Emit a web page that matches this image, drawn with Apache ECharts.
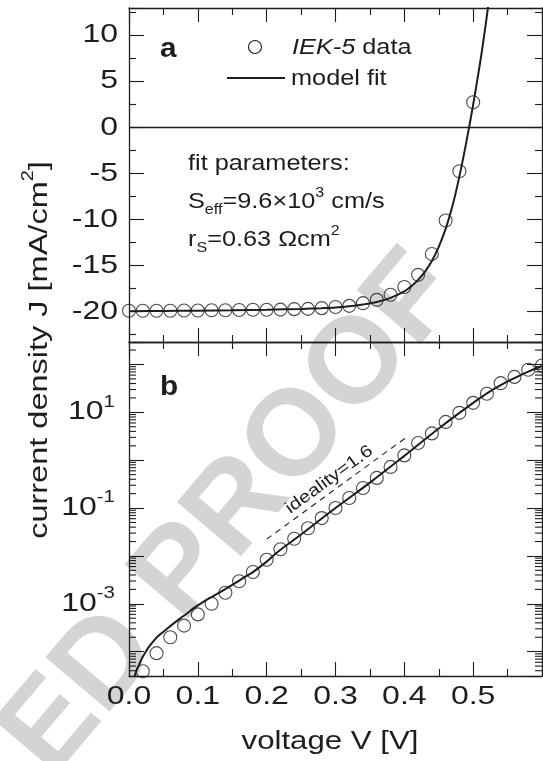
<!DOCTYPE html>
<html>
<head>
<meta charset="utf-8">
<script src="https://cdn.jsdelivr.net/npm/echarts@6/dist/echarts.min.js"></script>
<style>
  html, body { margin: 0; padding: 0; background: #fff; }
  #chart { width: 543px; height: 761px; }
</style>
</head>
<body>
<div id="chart"></div>
<script>
// ---- Illuminated J–V (panel a) ----
const voltageIllum = [0.00, 0.02, 0.04, 0.06, 0.08, 0.10, 0.12, 0.14, 0.16, 0.18, 0.20, 0.22, 0.24,
  0.26, 0.28, 0.30, 0.32, 0.34, 0.36, 0.38, 0.40, 0.42, 0.44, 0.46, 0.48, 0.50];
const currentIllum = [-19.90, -19.90, -19.90, -19.90, -19.88, -19.87, -19.85, -19.85, -19.83, -19.80,
  -19.80, -19.78, -19.73, -19.70, -19.62, -19.50, -19.37, -19.08, -18.72, -18.17, -17.33, -16.00,
  -13.74, -10.10, -4.75, 2.75];
const fitVoltageIllum = [0.00, 0.05, 0.10, 0.15, 0.20, 0.25, 0.28, 0.30, 0.32, 0.34, 0.36, 0.38, 0.40,
  0.41, 0.42, 0.43, 0.44, 0.45, 0.46, 0.47, 0.48, 0.49, 0.50, 0.51, 0.515, 0.52, 0.525];
const fitCurrentIllum = [-19.95, -19.93, -19.90, -19.86, -19.80, -19.70, -19.62, -19.55, -19.42, -19.22,
  -18.95, -18.50, -17.80, -17.25, -16.55, -15.65, -14.50, -12.95, -11.00, -8.50, -5.30, -1.60, 2.50,
  7.00, 9.50, 12.20, 15.00];

// ---- Dark J–V on a log scale (panel b) ----
const voltageDark = [0.02, 0.04, 0.06, 0.08, 0.10, 0.12, 0.14, 0.16, 0.18, 0.20, 0.22, 0.24, 0.26, 0.28,
  0.30, 0.32, 0.34, 0.36, 0.38, 0.40, 0.42, 0.44, 0.46, 0.48, 0.50, 0.52, 0.54, 0.56, 0.58, 0.60];
const currentDark = [3.9e-5, 9.3e-5, 2.0e-4, 3.5e-4, 6.0e-4, 1.0e-3, 1.7e-3, 2.95e-3, 4.6e-3, 8.3e-3,
  0.0138, 0.0229, 0.038, 0.0617, 0.100, 0.162, 0.263, 0.427, 0.724, 1.26, 2.29, 3.63, 6.31, 9.77,
  15.8, 24.5, 40.7, 55.0, 77.6, 95.5];
const fitVoltageDark = [0.0075, 0.0083, 0.012, 0.0156, 0.020, 0.0253, 0.030, 0.035, 0.042, 0.0495,
  0.057, 0.064, 0.074, 0.0836, 0.095, 0.108, 0.12, 0.132, 0.144, 0.156, 0.168, 0.18, 0.2, 0.215,
  0.25, 0.30, 0.35, 0.40, 0.45, 0.50, 0.52, 0.54, 0.56, 0.58, 0.60];
const fitCurrentDark = [2.6e-5, 3.1e-5, 4.4e-5, 5.75e-5, 7.8e-5, 1.05e-4, 1.32e-4, 1.62e-4, 2.09e-4,
  2.57e-4, 3.16e-4, 3.8e-4, 4.9e-4, 6.2e-4, 8.3e-4, 1.1e-3, 1.38e-3, 1.74e-3, 2.2e-3, 2.8e-3,
  3.6e-3, 4.6e-3, 7.6e-3, 0.0118, 0.028, 0.10, 0.34, 1.23, 4.6, 15.8, 25, 37, 52, 71, 93];
// ideality n = 1.6 guide line
const idealityVoltage = [0.20, 0.405];
const idealityCurrent = [0.0224, 3.16];

// ---- axis ranges and tick labels ----
const voltMin = 0, voltMax = 0.6;
const linMin = -23.3, linMax = 13;
const logMin = 3.1e-5, logMax = 295;
const voltTickLabels = [0.0, 0.1, 0.2, 0.3, 0.4, 0.5];
const linTickLabels = [-20, -15, -10, -5, 0, 5, 10];
const logTickExponents = [-3, -1, 1];

const INK = '#1d1d1d';
const FONT = '"Liberation Sans", Arial, Helvetica, sans-serif';
const measureCtx = document.createElement('canvas').getContext('2d');

function textWidth(t, size, italic, bold) {
  measureCtx.font = (italic ? 'italic ' : '') + (bold ? 'bold ' : '') + size + 'px ' + FONT;
  return measureCtx.measureText(t).width;
}

// Build a horizontally stretched run of text pieces (with sub/superscripts)
function textRun(x, y, segs, opts) {
  const sx = opts.sx || 1;
  let cx = 0;
  const kids = [];
  segs.forEach(s => {
    kids.push({
      type: 'text', x: cx, y: s.dy || 0, scaleX: sx, silent: true,
      style: {
        text: s.t, fontSize: s.size, fontFamily: FONT,
        fontStyle: s.italic ? 'italic' : 'normal', fontWeight: s.bold ? 'bold' : 'normal',
        fill: opts.fill || INK, align: 'left', verticalAlign: 'middle'
      }
    });
    cx += textWidth(s.t, s.size, s.italic, s.bold) * sx;
  });
  const shift = opts.align === 'right' ? -cx : opts.align === 'center' ? -cx / 2 : 0;
  kids.forEach(k => { k.x += shift; });
  return { type: 'group', x: x, y: y, rotation: opts.rotation || 0, z: opts.z || 10, silent: true, children: kids };
}

// log-axis minor tick values (2..9 x 10^n)
const logMinorTicks = [];
for (let e = -5; e <= 2; e++) {
  for (let m = 2; m <= 9; m++) {
    const v = m * Math.pow(10, e);
    if (v > logMin && v < logMax) logMinorTicks.push(v);
  }
}

const zip = (a, b) => a.map((v, i) => [v, b[i]]);

const tickLine = { color: INK, width: 1.1 };
function xAxisDef(grid, pos) {
  return {
    type: 'value', gridIndex: grid, position: pos, min: voltMin, max: voltMax, interval: 0.1,
    axisLine: { show: true, onZero: false, lineStyle: { color: INK, width: 1.3 } },
    axisTick: { show: true, inside: true, length: 14, lineStyle: tickLine },
    minorTick: { show: true, splitNumber: 2, length: 7, lineStyle: tickLine },
    axisLabel: { show: false }, splitLine: { show: false }, minorSplitLine: { show: false }
  };
}
function linYAxisDef(pos) {
  return {
    type: 'value', gridIndex: 0, position: pos, min: linMin, max: linMax,
    splitNumber: 8, minInterval: 5, maxInterval: 5,
    axisLine: { show: true, onZero: false, lineStyle: { color: INK, width: 1.3 } },
    axisTick: { show: true, inside: true, length: 15, lineStyle: tickLine },
    minorTick: { show: true, splitNumber: 2, length: 7, lineStyle: tickLine },
    axisLabel: { show: false }, splitLine: { show: false }, minorSplitLine: { show: false }
  };
}
function logYAxisDef(pos) {
  return {
    type: 'log', logBase: 10, gridIndex: 1, position: pos, min: logMin, max: logMax, splitNumber: 7,
    axisLine: { show: true, onZero: false, lineStyle: { color: INK, width: 1.3 } },
    axisTick: { show: true, inside: true, length: 15, lineStyle: tickLine },
    minorTick: { show: false },
    axisLabel: { show: false }, splitLine: { show: false }, minorSplitLine: { show: false }
  };
}

const circleStyle = { color: 'rgba(0,0,0,0)', borderColor: INK, borderWidth: 1.1 };
const TICK_SX = 1.28;

const option = {
  animation: false,
  backgroundColor: '#fff',
  grid: [
    { left: 129, top: 8, right: 1, height: 334 },
    { left: 129, top: 342, right: 1, height: 334 }
  ],
  xAxis: [xAxisDef(0, 'bottom'), xAxisDef(0, 'top'), xAxisDef(1, 'bottom'), xAxisDef(1, 'top')],
  yAxis: [linYAxisDef('left'), linYAxisDef('right'), logYAxisDef('left'), logYAxisDef('right')],
  series: [
    {
      type: 'scatter', name: 'IEK-5 data', xAxisIndex: 0, yAxisIndex: 0,
      data: zip(voltageIllum, currentIllum), symbol: 'circle', symbolSize: 13,
      itemStyle: circleStyle, z: 3, silent: true
    },
    {
      type: 'line', name: 'model fit', xAxisIndex: 0, yAxisIndex: 0,
      data: zip(fitVoltageIllum, fitCurrentIllum), showSymbol: false, smooth: 0.3,
      lineStyle: { color: INK, width: 2 }, z: 4, silent: true,
      markLine: {
        silent: true, symbol: 'none', label: { show: false },
        lineStyle: { color: INK, width: 1.3, type: 'solid' },
        data: [{ yAxis: 0 }]
      }
    },
    {
      type: 'scatter', xAxisIndex: 2, yAxisIndex: 2,
      data: zip(voltageDark, currentDark), symbol: 'circle', symbolSize: 13,
      itemStyle: circleStyle, z: 3, silent: true
    },
    {
      type: 'line', xAxisIndex: 2, yAxisIndex: 2,
      data: zip(fitVoltageDark, fitCurrentDark), showSymbol: false, smooth: 0.4,
      lineStyle: { color: INK, width: 2 }, z: 4, silent: true
    },
    {
      type: 'line', xAxisIndex: 2, yAxisIndex: 2,
      data: zip(idealityVoltage, idealityCurrent), showSymbol: false,
      lineStyle: { color: INK, width: 1.1, type: [6, 5] }, z: 4, silent: true
    },
    // ideality label, laid along the guide line
    {
      type: 'custom', xAxisIndex: 2, yAxisIndex: 2, silent: true, z: 5,
      data: [[idealityVoltage[0], idealityCurrent[0]]],
      renderItem: (params, api) => {
        const p1 = api.coord([idealityVoltage[0], idealityCurrent[0]]);
        const p2 = api.coord([idealityVoltage[1], idealityCurrent[1]]);
        const ang = Math.atan2(p1[1] - p2[1], p2[0] - p1[0]);
        const mx = (p1[0] + p2[0]) / 2, my = (p1[1] + p2[1]) / 2;
        const off = 10;
        return textRun(mx - Math.sin(ang) * off - 2, my - Math.cos(ang) * off,
          [{ t: 'ideality=1.6', size: 17 }], { sx: 1.2, align: 'center', rotation: ang });
      }
    },
    // voltage tick labels
    {
      type: 'custom', xAxisIndex: 2, yAxisIndex: 2, silent: true,
      data: voltTickLabels.map(v => [v, logMin]),
      renderItem: (params, api) => {
        const p = api.coord([api.value(0), logMin]);
        return textRun(p[0], p[1] + 21, [{ t: api.value(0).toFixed(1), size: 25 }],
          { sx: TICK_SX, align: 'center' });
      }
    },
    // linear current-density tick labels
    {
      type: 'custom', xAxisIndex: 0, yAxisIndex: 0, silent: true,
      data: linTickLabels.map(v => [voltMin, v]),
      renderItem: (params, api) => {
        const p = api.coord([voltMin, api.value(1)]);
        return textRun(p[0] - 11, p[1], [{ t: String(api.value(1)), size: 25 }],
          { sx: TICK_SX, align: 'right' });
      }
    },
    // log current-density tick labels (10^n)
    {
      type: 'custom', xAxisIndex: 2, yAxisIndex: 2, silent: true,
      data: logTickExponents.map(e => [voltMin, Math.pow(10, e)]),
      renderItem: (params, api) => {
        const e = logTickExponents[params.dataIndex];
        const p = api.coord([voltMin, Math.pow(10, e)]);
        return textRun(p[0] - 14, p[1], [{ t: '10', size: 25 }, { t: String(e), size: 16, dy: -10 }],
          { sx: TICK_SX, align: 'right' });
      }
    },
    // log minor ticks on both sides of panel b
    {
      type: 'custom', xAxisIndex: 2, yAxisIndex: 2, silent: true, z: 3,
      data: logMinorTicks.map(v => [voltMin, v]),
      renderItem: (params, api) => {
        const v = api.value(1);
        const l = api.coord([voltMin, v]);
        const r = api.coord([voltMax, v]);
        const st = { stroke: INK, lineWidth: 1.1 };
        return {
          type: 'group', children: [
            { type: 'line', shape: { x1: l[0], y1: l[1], x2: l[0] + 7, y2: l[1] }, style: st },
            { type: 'line', shape: { x1: r[0], y1: r[1], x2: r[0] - 7, y2: r[1] }, style: st }
          ]
        };
      }
    }
  ],
  graphic: [
    // watermark
    {
      type: 'text', x: 232, y: 515, rotation: 0.868, z: -10, silent: true,
      style: {
        text: 'ED PROOF', fontSize: 122, fontWeight: 'bold', fontFamily: FONT,
        fill: '#d4d4d4', align: 'center', verticalAlign: 'middle'
      }
    },
    // panel letters
    textRun(160, 50, [{ t: 'a', size: 27, bold: true }], { sx: 1.1 }),
    textRun(160, 388, [{ t: 'b', size: 27, bold: true }], { sx: 1.1 }),
    // legend
    { type: 'circle', shape: { cx: 255, cy: 47, r: 6.5 }, style: { fill: 'none', stroke: INK, lineWidth: 1.1 }, z: 10 },
    { type: 'line', shape: { x1: 227, y1: 78, x2: 285, y2: 78 }, style: { stroke: INK, lineWidth: 2 }, z: 10 },
    textRun(292, 48, [{ t: 'IEK-5', size: 22, italic: true }, { t: ' data', size: 22 }], { sx: 1.15 }),
    textRun(291, 79, [{ t: 'model fit', size: 22 }], { sx: 1.15 }),
    // fit parameters
    textRun(188, 164, [{ t: 'fit parameters:', size: 22 }], { sx: 1.15 }),
    textRun(188, 202, [
      { t: 'S', size: 22 }, { t: 'eff', size: 14, dy: 8 }, { t: '=9.6\u00d710', size: 22 },
      { t: '3', size: 14, dy: -9 }, { t: ' cm/s', size: 22 }
    ], { sx: 1.15 }),
    textRun(188, 240, [
      { t: 'r', size: 22 }, { t: 'S', size: 14, dy: 8 }, { t: '=0.63 \u03a9cm', size: 22 },
      { t: '2', size: 14, dy: -9 }
    ], { sx: 1.15 }),
    // axis titles
    textRun(40, 350, [{ t: 'current density J [mA/cm', size: 26 }, { t: '2', size: 16, dy: -11 }, { t: ']', size: 26 }],
      { sx: 1.25, align: 'center', rotation: Math.PI / 2 }),
    textRun(330, 742, [{ t: 'voltage V [V]', size: 26 }], { sx: 1.2, align: 'center' })
  ]
};

const chart = echarts.init(document.getElementById('chart'), null, { renderer: 'canvas' });
chart.setOption(option);
</script>
</body>
</html>
